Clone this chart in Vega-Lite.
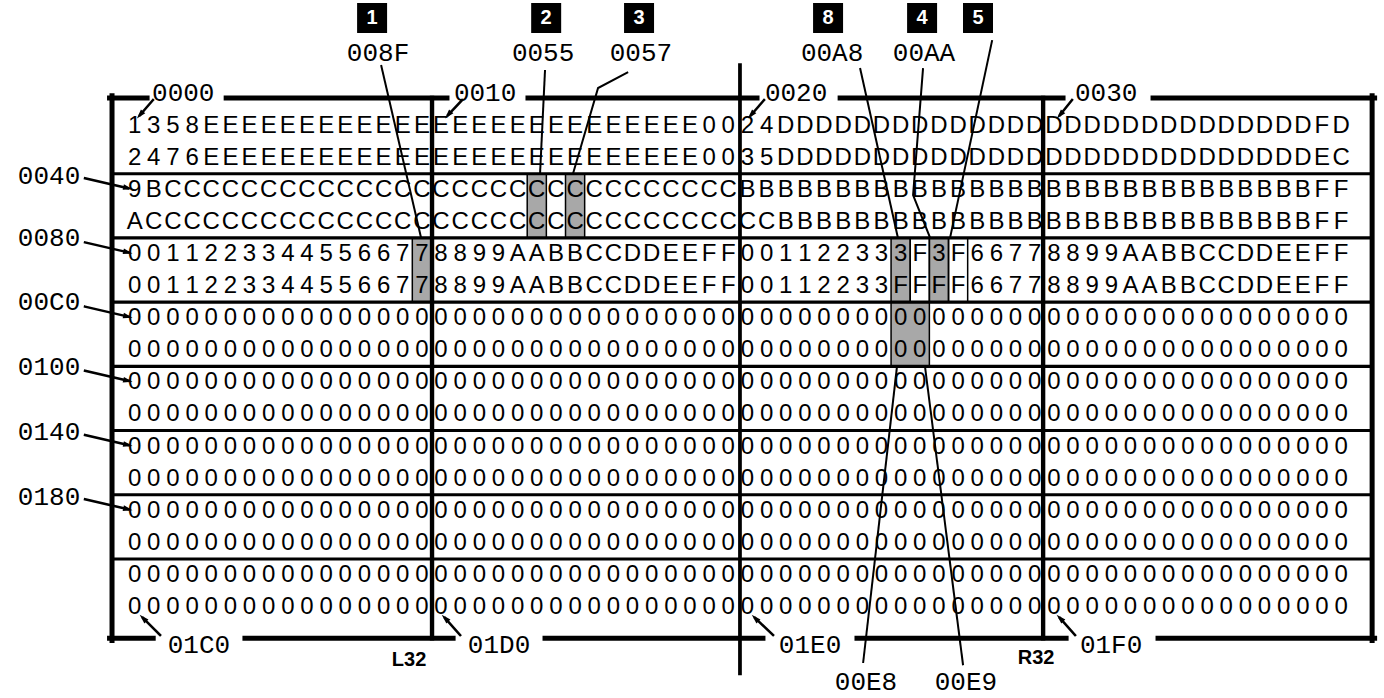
{
"$schema":"https://vega.github.io/schema/vega-lite/v6.json",
"width":1384,"height":698,"padding":0,"autosize":{"type":"none"},
"background":"white",
"config":{"view":{"stroke":null}},
"datasets":{
"shade":[{"x":14.5,"x2":15.5,"y":3.5,"y2":5.5},{"x":20.5,"x2":21.5,"y":1.5,"y2":3.5},{"x":22.5,"x2":23.5,"y":1.5,"y2":3.5},{"x":39.5,"x2":40.5,"y":3.5,"y2":5.5},{"x":41.5,"x2":42.5,"y":3.5,"y2":5.5},{"x":39.5,"x2":41.5,"y":5.5,"y2":7.5}],
"box":[{"x":40.5,"x2":41.5,"y":3.5,"y2":5.5},{"x":42.5,"x2":43.5,"y":3.5,"y2":5.5}],
"segs":[
{"k":"border","x":-1.31,"x2":0.65,"y":-0.857,"y2":-0.857},{"k":"border","x":4.78,"x2":16.31,"y":-0.857,"y2":-0.857},{"k":"border","x":20.54,"x2":32.5,"y":-0.857,"y2":-0.857},{"k":"border","x":36.84,"x2":48.48,"y":-0.857,"y2":-0.857},{"k":"border","x":53.18,"x2":64.75,"y":-0.857,"y2":-0.857},
{"k":"border","x":-1.31,"x2":0.97,"y":15.97,"y2":15.97},{"k":"border","x":5.76,"x2":16.63,"y":15.97,"y2":15.97},{"k":"border","x":21.43,"x2":32.81,"y":15.97,"y2":15.97},{"k":"border","x":37.72,"x2":48.64,"y":15.97,"y2":15.97},{"k":"border","x":53.44,"x2":64.75,"y":15.97,"y2":15.97},
{"k":"border","x":-1.18,"x2":-1.18,"y":-0.93,"y2":16.04},{"k":"border","x":64.62,"x2":64.62,"y":-0.93,"y2":16.04},
{"k":"div","x":15.53,"x2":15.53,"y":-0.857,"y2":15.97},{"k":"div","x":47.44,"x2":47.44,"y":-0.857,"y2":15.97},{"k":"mid","x":31.61,"x2":31.61,"y":-1.885,"y2":17.06},
{"k":"sep","x":-1.18,"x2":64.62,"y":1.5,"y2":1.5},{"k":"sep","x":-1.18,"x2":64.62,"y":3.5,"y2":3.5},{"k":"sep","x":-1.18,"x2":64.62,"y":5.5,"y2":5.5},{"k":"sep","x":-1.18,"x2":64.62,"y":7.5,"y2":7.5},{"k":"sep","x":-1.18,"x2":64.62,"y":9.5,"y2":9.5},{"k":"sep","x":-1.18,"x2":64.62,"y":11.5,"y2":11.5},{"k":"sep","x":-1.18,"x2":64.62,"y":13.5,"y2":13.5},
{"k":"arrow","x":0.96,"x2":0.28,"y":-0.794,"y2":-0.327},{"k":"arrow","x":17.1,"x2":16.37,"y":-0.794,"y2":-0.327},{"k":"arrow","x":32.87,"x2":32.19,"y":-0.794,"y2":-0.327},{"k":"arrow","x":48.95,"x2":48.32,"y":-0.794,"y2":-0.327},
{"k":"arrow","x":-2.59,"x2":-0.35,"y":1.64,"y2":1.95},{"k":"arrow","x":-2.59,"x2":-0.35,"y":3.64,"y2":3.95},{"k":"arrow","x":-2.59,"x2":-0.35,"y":5.64,"y2":5.95},{"k":"arrow","x":-2.59,"x2":-0.35,"y":7.64,"y2":7.95},{"k":"arrow","x":-2.59,"x2":-0.35,"y":9.64,"y2":9.95},{"k":"arrow","x":-2.59,"x2":-0.35,"y":11.64,"y2":11.95},
{"k":"arrow","x":1.33,"x2":0.44,"y":15.87,"y2":15.34},{"k":"arrow","x":17.0,"x2":16.21,"y":15.87,"y2":15.34},{"k":"arrow","x":33.34,"x2":32.4,"y":15.87,"y2":15.34},{"k":"arrow","x":49.11,"x2":48.32,"y":15.87,"y2":15.34}
],
"headsTop":[{"x":0.28,"y":-0.327},{"x":16.37,"y":-0.327},{"x":32.19,"y":-0.327},{"x":48.32,"y":-0.327}],
"headsLeft":[{"x":-0.35,"y":1.95},{"x":-0.35,"y":3.95},{"x":-0.35,"y":5.95},{"x":-0.35,"y":7.95},{"x":-0.35,"y":9.95},{"x":-0.35,"y":11.95}],
"headsBottom":[{"x":0.44,"y":15.34},{"x":16.21,"y":15.34},{"x":32.4,"y":15.34},{"x":48.32,"y":15.34}],
"leaders":[
{"id":"1","o":0,"x":12.87,"y":-1.885},{"id":"1","o":1,"x":14.96,"y":3.5},
{"id":"2","o":0,"x":21.43,"y":-1.73},{"id":"2","o":1,"x":21.17,"y":1.5},
{"id":"3","o":0,"x":25.77,"y":-1.667},{"id":"3","o":1,"x":24.2,"y":-1.168},{"id":"3","o":2,"x":22.89,"y":1.5},
{"id":"8","o":0,"x":37.88,"y":-1.79},{"id":"8","o":1,"x":39.86,"y":3.5},
{"id":"4","o":0,"x":41.17,"y":-1.79},{"id":"4","o":1,"x":40.65,"y":2.165},{"id":"4","o":2,"x":41.54,"y":3.5},
{"id":"5","o":0,"x":44.78,"y":-2.66},{"id":"5","o":1,"x":42.58,"y":3.5},
{"id":"E8","o":0,"x":38.04,"y":16.74},{"id":"E8","o":1,"x":39.81,"y":7.5},
{"id":"E9","o":0,"x":43.26,"y":16.81},{"id":"E9","o":1,"x":41.27,"y":7.5}
],
"labels":[
{"x":2.54,"y":-1.01,"t":"0000"},{"x":18.3,"y":-1.01,"t":"0010"},{"x":34.54,"y":-1.01,"t":"0020"},{"x":50.73,"y":-1.01,"t":"0030"},
{"x":3.36,"y":16.18,"t":"01C0"},{"x":19.03,"y":16.18,"t":"01D0"},{"x":35.27,"y":16.18,"t":"01E0"},{"x":50.99,"y":16.18,"t":"01F0"},
{"x":-4.47,"y":1.57,"t":"0040"},{"x":-4.47,"y":3.5,"t":"0080"},{"x":-4.47,"y":5.5,"t":"00C0"},{"x":-4.47,"y":7.52,"t":"0100"},{"x":-4.47,"y":9.55,"t":"0140"},{"x":-4.47,"y":11.57,"t":"0180"},
{"x":12.71,"y":-2.26,"t":"008F"},{"x":21.33,"y":-2.26,"t":"0055"},{"x":26.44,"y":-2.26,"t":"0057"},{"x":36.42,"y":-2.26,"t":"00A8"},{"x":41.22,"y":-2.26,"t":"00AA"},
{"x":38.19,"y":17.34,"t":"00E8"},{"x":43.41,"y":17.34,"t":"00E9"}
],
"side":[{"x":14.33,"y":16.65,"t":"L32"},{"x":47.07,"y":16.59,"t":"R32"}],
"badges":[{"x":12.4,"y":-3.35,"t":"1"},{"x":21.49,"y":-3.35,"t":"2"},{"x":26.34,"y":-3.35,"t":"3"},{"x":36.21,"y":-3.35,"t":"8"},{"x":41.12,"y":-3.35,"t":"4"},{"x":44.04,"y":-3.35,"t":"5"}],
"cells":[
{"r":0,"i":0,"t":"1"},{"r":0,"i":1,"t":"3"},{"r":0,"i":2,"t":"5"},{"r":0,"i":3,"t":"8"},{"r":0,"i":4,"t":"E"},{"r":0,"i":5,"t":"E"},{"r":0,"i":6,"t":"E"},{"r":0,"i":7,"t":"E"},{"r":0,"i":8,"t":"E"},{"r":0,"i":9,"t":"E"},{"r":0,"i":10,"t":"E"},{"r":0,"i":11,"t":"E"},{"r":0,"i":12,"t":"E"},{"r":0,"i":13,"t":"E"},{"r":0,"i":14,"t":"E"},{"r":0,"i":15,"t":"E"},
{"r":0,"i":16,"t":"E"},{"r":0,"i":17,"t":"E"},{"r":0,"i":18,"t":"E"},{"r":0,"i":19,"t":"E"},{"r":0,"i":20,"t":"E"},{"r":0,"i":21,"t":"E"},{"r":0,"i":22,"t":"E"},{"r":0,"i":23,"t":"E"},{"r":0,"i":24,"t":"E"},{"r":0,"i":25,"t":"E"},{"r":0,"i":26,"t":"E"},{"r":0,"i":27,"t":"E"},{"r":0,"i":28,"t":"E"},{"r":0,"i":29,"t":"E"},{"r":0,"i":30,"t":"0"},{"r":0,"i":31,"t":"0"},
{"r":0,"i":32,"t":"2"},{"r":0,"i":33,"t":"4"},{"r":0,"i":34,"t":"D"},{"r":0,"i":35,"t":"D"},{"r":0,"i":36,"t":"D"},{"r":0,"i":37,"t":"D"},{"r":0,"i":38,"t":"D"},{"r":0,"i":39,"t":"D"},{"r":0,"i":40,"t":"D"},{"r":0,"i":41,"t":"D"},{"r":0,"i":42,"t":"D"},{"r":0,"i":43,"t":"D"},{"r":0,"i":44,"t":"D"},{"r":0,"i":45,"t":"D"},{"r":0,"i":46,"t":"D"},{"r":0,"i":47,"t":"D"},
{"r":0,"i":48,"t":"D"},{"r":0,"i":49,"t":"D"},{"r":0,"i":50,"t":"D"},{"r":0,"i":51,"t":"D"},{"r":0,"i":52,"t":"D"},{"r":0,"i":53,"t":"D"},{"r":0,"i":54,"t":"D"},{"r":0,"i":55,"t":"D"},{"r":0,"i":56,"t":"D"},{"r":0,"i":57,"t":"D"},{"r":0,"i":58,"t":"D"},{"r":0,"i":59,"t":"D"},{"r":0,"i":60,"t":"D"},{"r":0,"i":61,"t":"D"},{"r":0,"i":62,"t":"F"},{"r":0,"i":63,"t":"D"},
{"r":1,"i":0,"t":"2"},{"r":1,"i":1,"t":"4"},{"r":1,"i":2,"t":"7"},{"r":1,"i":3,"t":"6"},{"r":1,"i":4,"t":"E"},{"r":1,"i":5,"t":"E"},{"r":1,"i":6,"t":"E"},{"r":1,"i":7,"t":"E"},{"r":1,"i":8,"t":"E"},{"r":1,"i":9,"t":"E"},{"r":1,"i":10,"t":"E"},{"r":1,"i":11,"t":"E"},{"r":1,"i":12,"t":"E"},{"r":1,"i":13,"t":"E"},{"r":1,"i":14,"t":"E"},{"r":1,"i":15,"t":"E"},
{"r":1,"i":16,"t":"E"},{"r":1,"i":17,"t":"E"},{"r":1,"i":18,"t":"E"},{"r":1,"i":19,"t":"E"},{"r":1,"i":20,"t":"E"},{"r":1,"i":21,"t":"E"},{"r":1,"i":22,"t":"E"},{"r":1,"i":23,"t":"E"},{"r":1,"i":24,"t":"E"},{"r":1,"i":25,"t":"E"},{"r":1,"i":26,"t":"E"},{"r":1,"i":27,"t":"E"},{"r":1,"i":28,"t":"E"},{"r":1,"i":29,"t":"E"},{"r":1,"i":30,"t":"0"},{"r":1,"i":31,"t":"0"},
{"r":1,"i":32,"t":"3"},{"r":1,"i":33,"t":"5"},{"r":1,"i":34,"t":"D"},{"r":1,"i":35,"t":"D"},{"r":1,"i":36,"t":"D"},{"r":1,"i":37,"t":"D"},{"r":1,"i":38,"t":"D"},{"r":1,"i":39,"t":"D"},{"r":1,"i":40,"t":"D"},{"r":1,"i":41,"t":"D"},{"r":1,"i":42,"t":"D"},{"r":1,"i":43,"t":"D"},{"r":1,"i":44,"t":"D"},{"r":1,"i":45,"t":"D"},{"r":1,"i":46,"t":"D"},{"r":1,"i":47,"t":"D"},
{"r":1,"i":48,"t":"D"},{"r":1,"i":49,"t":"D"},{"r":1,"i":50,"t":"D"},{"r":1,"i":51,"t":"D"},{"r":1,"i":52,"t":"D"},{"r":1,"i":53,"t":"D"},{"r":1,"i":54,"t":"D"},{"r":1,"i":55,"t":"D"},{"r":1,"i":56,"t":"D"},{"r":1,"i":57,"t":"D"},{"r":1,"i":58,"t":"D"},{"r":1,"i":59,"t":"D"},{"r":1,"i":60,"t":"D"},{"r":1,"i":61,"t":"D"},{"r":1,"i":62,"t":"E"},{"r":1,"i":63,"t":"C"},
{"r":2,"i":0,"t":"9"},{"r":2,"i":1,"t":"B"},{"r":2,"i":2,"t":"C"},{"r":2,"i":3,"t":"C"},{"r":2,"i":4,"t":"C"},{"r":2,"i":5,"t":"C"},{"r":2,"i":6,"t":"C"},{"r":2,"i":7,"t":"C"},{"r":2,"i":8,"t":"C"},{"r":2,"i":9,"t":"C"},{"r":2,"i":10,"t":"C"},{"r":2,"i":11,"t":"C"},{"r":2,"i":12,"t":"C"},{"r":2,"i":13,"t":"C"},{"r":2,"i":14,"t":"C"},{"r":2,"i":15,"t":"C"},
{"r":2,"i":16,"t":"C"},{"r":2,"i":17,"t":"C"},{"r":2,"i":18,"t":"C"},{"r":2,"i":19,"t":"C"},{"r":2,"i":20,"t":"C"},{"r":2,"i":21,"t":"C"},{"r":2,"i":22,"t":"C"},{"r":2,"i":23,"t":"C"},{"r":2,"i":24,"t":"C"},{"r":2,"i":25,"t":"C"},{"r":2,"i":26,"t":"C"},{"r":2,"i":27,"t":"C"},{"r":2,"i":28,"t":"C"},{"r":2,"i":29,"t":"C"},{"r":2,"i":30,"t":"C"},{"r":2,"i":31,"t":"C"},
{"r":2,"i":32,"t":"B"},{"r":2,"i":33,"t":"B"},{"r":2,"i":34,"t":"B"},{"r":2,"i":35,"t":"B"},{"r":2,"i":36,"t":"B"},{"r":2,"i":37,"t":"B"},{"r":2,"i":38,"t":"B"},{"r":2,"i":39,"t":"B"},{"r":2,"i":40,"t":"B"},{"r":2,"i":41,"t":"B"},{"r":2,"i":42,"t":"B"},{"r":2,"i":43,"t":"B"},{"r":2,"i":44,"t":"B"},{"r":2,"i":45,"t":"B"},{"r":2,"i":46,"t":"B"},{"r":2,"i":47,"t":"B"},
{"r":2,"i":48,"t":"B"},{"r":2,"i":49,"t":"B"},{"r":2,"i":50,"t":"B"},{"r":2,"i":51,"t":"B"},{"r":2,"i":52,"t":"B"},{"r":2,"i":53,"t":"B"},{"r":2,"i":54,"t":"B"},{"r":2,"i":55,"t":"B"},{"r":2,"i":56,"t":"B"},{"r":2,"i":57,"t":"B"},{"r":2,"i":58,"t":"B"},{"r":2,"i":59,"t":"B"},{"r":2,"i":60,"t":"B"},{"r":2,"i":61,"t":"B"},{"r":2,"i":62,"t":"F"},{"r":2,"i":63,"t":"F"},
{"r":3,"i":0,"t":"A"},{"r":3,"i":1,"t":"C"},{"r":3,"i":2,"t":"C"},{"r":3,"i":3,"t":"C"},{"r":3,"i":4,"t":"C"},{"r":3,"i":5,"t":"C"},{"r":3,"i":6,"t":"C"},{"r":3,"i":7,"t":"C"},{"r":3,"i":8,"t":"C"},{"r":3,"i":9,"t":"C"},{"r":3,"i":10,"t":"C"},{"r":3,"i":11,"t":"C"},{"r":3,"i":12,"t":"C"},{"r":3,"i":13,"t":"C"},{"r":3,"i":14,"t":"C"},{"r":3,"i":15,"t":"C"},
{"r":3,"i":16,"t":"C"},{"r":3,"i":17,"t":"C"},{"r":3,"i":18,"t":"C"},{"r":3,"i":19,"t":"C"},{"r":3,"i":20,"t":"C"},{"r":3,"i":21,"t":"C"},{"r":3,"i":22,"t":"C"},{"r":3,"i":23,"t":"C"},{"r":3,"i":24,"t":"C"},{"r":3,"i":25,"t":"C"},{"r":3,"i":26,"t":"C"},{"r":3,"i":27,"t":"C"},{"r":3,"i":28,"t":"C"},{"r":3,"i":29,"t":"C"},{"r":3,"i":30,"t":"C"},{"r":3,"i":31,"t":"C"},
{"r":3,"i":32,"t":"C"},{"r":3,"i":33,"t":"C"},{"r":3,"i":34,"t":"B"},{"r":3,"i":35,"t":"B"},{"r":3,"i":36,"t":"B"},{"r":3,"i":37,"t":"B"},{"r":3,"i":38,"t":"B"},{"r":3,"i":39,"t":"B"},{"r":3,"i":40,"t":"B"},{"r":3,"i":41,"t":"B"},{"r":3,"i":42,"t":"B"},{"r":3,"i":43,"t":"B"},{"r":3,"i":44,"t":"B"},{"r":3,"i":45,"t":"B"},{"r":3,"i":46,"t":"B"},{"r":3,"i":47,"t":"B"},
{"r":3,"i":48,"t":"B"},{"r":3,"i":49,"t":"B"},{"r":3,"i":50,"t":"B"},{"r":3,"i":51,"t":"B"},{"r":3,"i":52,"t":"B"},{"r":3,"i":53,"t":"B"},{"r":3,"i":54,"t":"B"},{"r":3,"i":55,"t":"B"},{"r":3,"i":56,"t":"B"},{"r":3,"i":57,"t":"B"},{"r":3,"i":58,"t":"B"},{"r":3,"i":59,"t":"B"},{"r":3,"i":60,"t":"B"},{"r":3,"i":61,"t":"B"},{"r":3,"i":62,"t":"F"},{"r":3,"i":63,"t":"F"},
{"r":4,"i":0,"t":"0"},{"r":4,"i":1,"t":"0"},{"r":4,"i":2,"t":"1"},{"r":4,"i":3,"t":"1"},{"r":4,"i":4,"t":"2"},{"r":4,"i":5,"t":"2"},{"r":4,"i":6,"t":"3"},{"r":4,"i":7,"t":"3"},{"r":4,"i":8,"t":"4"},{"r":4,"i":9,"t":"4"},{"r":4,"i":10,"t":"5"},{"r":4,"i":11,"t":"5"},{"r":4,"i":12,"t":"6"},{"r":4,"i":13,"t":"6"},{"r":4,"i":14,"t":"7"},{"r":4,"i":15,"t":"7"},
{"r":4,"i":16,"t":"8"},{"r":4,"i":17,"t":"8"},{"r":4,"i":18,"t":"9"},{"r":4,"i":19,"t":"9"},{"r":4,"i":20,"t":"A"},{"r":4,"i":21,"t":"A"},{"r":4,"i":22,"t":"B"},{"r":4,"i":23,"t":"B"},{"r":4,"i":24,"t":"C"},{"r":4,"i":25,"t":"C"},{"r":4,"i":26,"t":"D"},{"r":4,"i":27,"t":"D"},{"r":4,"i":28,"t":"E"},{"r":4,"i":29,"t":"E"},{"r":4,"i":30,"t":"F"},{"r":4,"i":31,"t":"F"},
{"r":4,"i":32,"t":"0"},{"r":4,"i":33,"t":"0"},{"r":4,"i":34,"t":"1"},{"r":4,"i":35,"t":"1"},{"r":4,"i":36,"t":"2"},{"r":4,"i":37,"t":"2"},{"r":4,"i":38,"t":"3"},{"r":4,"i":39,"t":"3"},{"r":4,"i":40,"t":"3"},{"r":4,"i":41,"t":"F"},{"r":4,"i":42,"t":"3"},{"r":4,"i":43,"t":"F"},{"r":4,"i":44,"t":"6"},{"r":4,"i":45,"t":"6"},{"r":4,"i":46,"t":"7"},{"r":4,"i":47,"t":"7"},
{"r":4,"i":48,"t":"8"},{"r":4,"i":49,"t":"8"},{"r":4,"i":50,"t":"9"},{"r":4,"i":51,"t":"9"},{"r":4,"i":52,"t":"A"},{"r":4,"i":53,"t":"A"},{"r":4,"i":54,"t":"B"},{"r":4,"i":55,"t":"B"},{"r":4,"i":56,"t":"C"},{"r":4,"i":57,"t":"C"},{"r":4,"i":58,"t":"D"},{"r":4,"i":59,"t":"D"},{"r":4,"i":60,"t":"E"},{"r":4,"i":61,"t":"E"},{"r":4,"i":62,"t":"F"},{"r":4,"i":63,"t":"F"},
{"r":5,"i":0,"t":"0"},{"r":5,"i":1,"t":"0"},{"r":5,"i":2,"t":"1"},{"r":5,"i":3,"t":"1"},{"r":5,"i":4,"t":"2"},{"r":5,"i":5,"t":"2"},{"r":5,"i":6,"t":"3"},{"r":5,"i":7,"t":"3"},{"r":5,"i":8,"t":"4"},{"r":5,"i":9,"t":"4"},{"r":5,"i":10,"t":"5"},{"r":5,"i":11,"t":"5"},{"r":5,"i":12,"t":"6"},{"r":5,"i":13,"t":"6"},{"r":5,"i":14,"t":"7"},{"r":5,"i":15,"t":"7"},
{"r":5,"i":16,"t":"8"},{"r":5,"i":17,"t":"8"},{"r":5,"i":18,"t":"9"},{"r":5,"i":19,"t":"9"},{"r":5,"i":20,"t":"A"},{"r":5,"i":21,"t":"A"},{"r":5,"i":22,"t":"B"},{"r":5,"i":23,"t":"B"},{"r":5,"i":24,"t":"C"},{"r":5,"i":25,"t":"C"},{"r":5,"i":26,"t":"D"},{"r":5,"i":27,"t":"D"},{"r":5,"i":28,"t":"E"},{"r":5,"i":29,"t":"E"},{"r":5,"i":30,"t":"F"},{"r":5,"i":31,"t":"F"},
{"r":5,"i":32,"t":"0"},{"r":5,"i":33,"t":"0"},{"r":5,"i":34,"t":"1"},{"r":5,"i":35,"t":"1"},{"r":5,"i":36,"t":"2"},{"r":5,"i":37,"t":"2"},{"r":5,"i":38,"t":"3"},{"r":5,"i":39,"t":"3"},{"r":5,"i":40,"t":"F"},{"r":5,"i":41,"t":"F"},{"r":5,"i":42,"t":"F"},{"r":5,"i":43,"t":"F"},{"r":5,"i":44,"t":"6"},{"r":5,"i":45,"t":"6"},{"r":5,"i":46,"t":"7"},{"r":5,"i":47,"t":"7"},
{"r":5,"i":48,"t":"8"},{"r":5,"i":49,"t":"8"},{"r":5,"i":50,"t":"9"},{"r":5,"i":51,"t":"9"},{"r":5,"i":52,"t":"A"},{"r":5,"i":53,"t":"A"},{"r":5,"i":54,"t":"B"},{"r":5,"i":55,"t":"B"},{"r":5,"i":56,"t":"C"},{"r":5,"i":57,"t":"C"},{"r":5,"i":58,"t":"D"},{"r":5,"i":59,"t":"D"},{"r":5,"i":60,"t":"E"},{"r":5,"i":61,"t":"E"},{"r":5,"i":62,"t":"F"},{"r":5,"i":63,"t":"F"}
],
"zrows":[
{"r":6,"i":0},{"r":6,"i":1},{"r":6,"i":2},{"r":6,"i":3},{"r":6,"i":4},{"r":6,"i":5},{"r":6,"i":6},{"r":6,"i":7},{"r":6,"i":8},{"r":6,"i":9},{"r":6,"i":10},{"r":6,"i":11},{"r":6,"i":12},{"r":6,"i":13},{"r":6,"i":14},{"r":6,"i":15},{"r":6,"i":16},{"r":6,"i":17},{"r":6,"i":18},{"r":6,"i":19},{"r":6,"i":20},{"r":6,"i":21},{"r":6,"i":22},{"r":6,"i":23},{"r":6,"i":24},{"r":6,"i":25},{"r":6,"i":26},{"r":6,"i":27},{"r":6,"i":28},{"r":6,"i":29},{"r":6,"i":30},{"r":6,"i":31},{"r":6,"i":32},{"r":6,"i":33},{"r":6,"i":34},{"r":6,"i":35},{"r":6,"i":36},{"r":6,"i":37},{"r":6,"i":38},{"r":6,"i":39},{"r":6,"i":40},{"r":6,"i":41},{"r":6,"i":42},{"r":6,"i":43},{"r":6,"i":44},{"r":6,"i":45},{"r":6,"i":46},{"r":6,"i":47},{"r":6,"i":48},{"r":6,"i":49},{"r":6,"i":50},{"r":6,"i":51},{"r":6,"i":52},{"r":6,"i":53},{"r":6,"i":54},{"r":6,"i":55},{"r":6,"i":56},{"r":6,"i":57},{"r":6,"i":58},{"r":6,"i":59},{"r":6,"i":60},{"r":6,"i":61},{"r":6,"i":62},{"r":6,"i":63},
{"r":7,"i":0},{"r":7,"i":1},{"r":7,"i":2},{"r":7,"i":3},{"r":7,"i":4},{"r":7,"i":5},{"r":7,"i":6},{"r":7,"i":7},{"r":7,"i":8},{"r":7,"i":9},{"r":7,"i":10},{"r":7,"i":11},{"r":7,"i":12},{"r":7,"i":13},{"r":7,"i":14},{"r":7,"i":15},{"r":7,"i":16},{"r":7,"i":17},{"r":7,"i":18},{"r":7,"i":19},{"r":7,"i":20},{"r":7,"i":21},{"r":7,"i":22},{"r":7,"i":23},{"r":7,"i":24},{"r":7,"i":25},{"r":7,"i":26},{"r":7,"i":27},{"r":7,"i":28},{"r":7,"i":29},{"r":7,"i":30},{"r":7,"i":31},{"r":7,"i":32},{"r":7,"i":33},{"r":7,"i":34},{"r":7,"i":35},{"r":7,"i":36},{"r":7,"i":37},{"r":7,"i":38},{"r":7,"i":39},{"r":7,"i":40},{"r":7,"i":41},{"r":7,"i":42},{"r":7,"i":43},{"r":7,"i":44},{"r":7,"i":45},{"r":7,"i":46},{"r":7,"i":47},{"r":7,"i":48},{"r":7,"i":49},{"r":7,"i":50},{"r":7,"i":51},{"r":7,"i":52},{"r":7,"i":53},{"r":7,"i":54},{"r":7,"i":55},{"r":7,"i":56},{"r":7,"i":57},{"r":7,"i":58},{"r":7,"i":59},{"r":7,"i":60},{"r":7,"i":61},{"r":7,"i":62},{"r":7,"i":63},
{"r":8,"i":0},{"r":8,"i":1},{"r":8,"i":2},{"r":8,"i":3},{"r":8,"i":4},{"r":8,"i":5},{"r":8,"i":6},{"r":8,"i":7},{"r":8,"i":8},{"r":8,"i":9},{"r":8,"i":10},{"r":8,"i":11},{"r":8,"i":12},{"r":8,"i":13},{"r":8,"i":14},{"r":8,"i":15},{"r":8,"i":16},{"r":8,"i":17},{"r":8,"i":18},{"r":8,"i":19},{"r":8,"i":20},{"r":8,"i":21},{"r":8,"i":22},{"r":8,"i":23},{"r":8,"i":24},{"r":8,"i":25},{"r":8,"i":26},{"r":8,"i":27},{"r":8,"i":28},{"r":8,"i":29},{"r":8,"i":30},{"r":8,"i":31},{"r":8,"i":32},{"r":8,"i":33},{"r":8,"i":34},{"r":8,"i":35},{"r":8,"i":36},{"r":8,"i":37},{"r":8,"i":38},{"r":8,"i":39},{"r":8,"i":40},{"r":8,"i":41},{"r":8,"i":42},{"r":8,"i":43},{"r":8,"i":44},{"r":8,"i":45},{"r":8,"i":46},{"r":8,"i":47},{"r":8,"i":48},{"r":8,"i":49},{"r":8,"i":50},{"r":8,"i":51},{"r":8,"i":52},{"r":8,"i":53},{"r":8,"i":54},{"r":8,"i":55},{"r":8,"i":56},{"r":8,"i":57},{"r":8,"i":58},{"r":8,"i":59},{"r":8,"i":60},{"r":8,"i":61},{"r":8,"i":62},{"r":8,"i":63},
{"r":9,"i":0},{"r":9,"i":1},{"r":9,"i":2},{"r":9,"i":3},{"r":9,"i":4},{"r":9,"i":5},{"r":9,"i":6},{"r":9,"i":7},{"r":9,"i":8},{"r":9,"i":9},{"r":9,"i":10},{"r":9,"i":11},{"r":9,"i":12},{"r":9,"i":13},{"r":9,"i":14},{"r":9,"i":15},{"r":9,"i":16},{"r":9,"i":17},{"r":9,"i":18},{"r":9,"i":19},{"r":9,"i":20},{"r":9,"i":21},{"r":9,"i":22},{"r":9,"i":23},{"r":9,"i":24},{"r":9,"i":25},{"r":9,"i":26},{"r":9,"i":27},{"r":9,"i":28},{"r":9,"i":29},{"r":9,"i":30},{"r":9,"i":31},{"r":9,"i":32},{"r":9,"i":33},{"r":9,"i":34},{"r":9,"i":35},{"r":9,"i":36},{"r":9,"i":37},{"r":9,"i":38},{"r":9,"i":39},{"r":9,"i":40},{"r":9,"i":41},{"r":9,"i":42},{"r":9,"i":43},{"r":9,"i":44},{"r":9,"i":45},{"r":9,"i":46},{"r":9,"i":47},{"r":9,"i":48},{"r":9,"i":49},{"r":9,"i":50},{"r":9,"i":51},{"r":9,"i":52},{"r":9,"i":53},{"r":9,"i":54},{"r":9,"i":55},{"r":9,"i":56},{"r":9,"i":57},{"r":9,"i":58},{"r":9,"i":59},{"r":9,"i":60},{"r":9,"i":61},{"r":9,"i":62},{"r":9,"i":63},
{"r":10,"i":0},{"r":10,"i":1},{"r":10,"i":2},{"r":10,"i":3},{"r":10,"i":4},{"r":10,"i":5},{"r":10,"i":6},{"r":10,"i":7},{"r":10,"i":8},{"r":10,"i":9},{"r":10,"i":10},{"r":10,"i":11},{"r":10,"i":12},{"r":10,"i":13},{"r":10,"i":14},{"r":10,"i":15},{"r":10,"i":16},{"r":10,"i":17},{"r":10,"i":18},{"r":10,"i":19},{"r":10,"i":20},{"r":10,"i":21},{"r":10,"i":22},{"r":10,"i":23},{"r":10,"i":24},{"r":10,"i":25},{"r":10,"i":26},{"r":10,"i":27},{"r":10,"i":28},{"r":10,"i":29},{"r":10,"i":30},{"r":10,"i":31},{"r":10,"i":32},{"r":10,"i":33},{"r":10,"i":34},{"r":10,"i":35},{"r":10,"i":36},{"r":10,"i":37},{"r":10,"i":38},{"r":10,"i":39},{"r":10,"i":40},{"r":10,"i":41},{"r":10,"i":42},{"r":10,"i":43},{"r":10,"i":44},{"r":10,"i":45},{"r":10,"i":46},{"r":10,"i":47},{"r":10,"i":48},{"r":10,"i":49},{"r":10,"i":50},{"r":10,"i":51},{"r":10,"i":52},{"r":10,"i":53},{"r":10,"i":54},{"r":10,"i":55},{"r":10,"i":56},{"r":10,"i":57},{"r":10,"i":58},{"r":10,"i":59},{"r":10,"i":60},{"r":10,"i":61},{"r":10,"i":62},{"r":10,"i":63},
{"r":11,"i":0},{"r":11,"i":1},{"r":11,"i":2},{"r":11,"i":3},{"r":11,"i":4},{"r":11,"i":5},{"r":11,"i":6},{"r":11,"i":7},{"r":11,"i":8},{"r":11,"i":9},{"r":11,"i":10},{"r":11,"i":11},{"r":11,"i":12},{"r":11,"i":13},{"r":11,"i":14},{"r":11,"i":15},{"r":11,"i":16},{"r":11,"i":17},{"r":11,"i":18},{"r":11,"i":19},{"r":11,"i":20},{"r":11,"i":21},{"r":11,"i":22},{"r":11,"i":23},{"r":11,"i":24},{"r":11,"i":25},{"r":11,"i":26},{"r":11,"i":27},{"r":11,"i":28},{"r":11,"i":29},{"r":11,"i":30},{"r":11,"i":31},{"r":11,"i":32},{"r":11,"i":33},{"r":11,"i":34},{"r":11,"i":35},{"r":11,"i":36},{"r":11,"i":37},{"r":11,"i":38},{"r":11,"i":39},{"r":11,"i":40},{"r":11,"i":41},{"r":11,"i":42},{"r":11,"i":43},{"r":11,"i":44},{"r":11,"i":45},{"r":11,"i":46},{"r":11,"i":47},{"r":11,"i":48},{"r":11,"i":49},{"r":11,"i":50},{"r":11,"i":51},{"r":11,"i":52},{"r":11,"i":53},{"r":11,"i":54},{"r":11,"i":55},{"r":11,"i":56},{"r":11,"i":57},{"r":11,"i":58},{"r":11,"i":59},{"r":11,"i":60},{"r":11,"i":61},{"r":11,"i":62},{"r":11,"i":63},
{"r":12,"i":0},{"r":12,"i":1},{"r":12,"i":2},{"r":12,"i":3},{"r":12,"i":4},{"r":12,"i":5},{"r":12,"i":6},{"r":12,"i":7},{"r":12,"i":8},{"r":12,"i":9},{"r":12,"i":10},{"r":12,"i":11},{"r":12,"i":12},{"r":12,"i":13},{"r":12,"i":14},{"r":12,"i":15},{"r":12,"i":16},{"r":12,"i":17},{"r":12,"i":18},{"r":12,"i":19},{"r":12,"i":20},{"r":12,"i":21},{"r":12,"i":22},{"r":12,"i":23},{"r":12,"i":24},{"r":12,"i":25},{"r":12,"i":26},{"r":12,"i":27},{"r":12,"i":28},{"r":12,"i":29},{"r":12,"i":30},{"r":12,"i":31},{"r":12,"i":32},{"r":12,"i":33},{"r":12,"i":34},{"r":12,"i":35},{"r":12,"i":36},{"r":12,"i":37},{"r":12,"i":38},{"r":12,"i":39},{"r":12,"i":40},{"r":12,"i":41},{"r":12,"i":42},{"r":12,"i":43},{"r":12,"i":44},{"r":12,"i":45},{"r":12,"i":46},{"r":12,"i":47},{"r":12,"i":48},{"r":12,"i":49},{"r":12,"i":50},{"r":12,"i":51},{"r":12,"i":52},{"r":12,"i":53},{"r":12,"i":54},{"r":12,"i":55},{"r":12,"i":56},{"r":12,"i":57},{"r":12,"i":58},{"r":12,"i":59},{"r":12,"i":60},{"r":12,"i":61},{"r":12,"i":62},{"r":12,"i":63},
{"r":13,"i":0},{"r":13,"i":1},{"r":13,"i":2},{"r":13,"i":3},{"r":13,"i":4},{"r":13,"i":5},{"r":13,"i":6},{"r":13,"i":7},{"r":13,"i":8},{"r":13,"i":9},{"r":13,"i":10},{"r":13,"i":11},{"r":13,"i":12},{"r":13,"i":13},{"r":13,"i":14},{"r":13,"i":15},{"r":13,"i":16},{"r":13,"i":17},{"r":13,"i":18},{"r":13,"i":19},{"r":13,"i":20},{"r":13,"i":21},{"r":13,"i":22},{"r":13,"i":23},{"r":13,"i":24},{"r":13,"i":25},{"r":13,"i":26},{"r":13,"i":27},{"r":13,"i":28},{"r":13,"i":29},{"r":13,"i":30},{"r":13,"i":31},{"r":13,"i":32},{"r":13,"i":33},{"r":13,"i":34},{"r":13,"i":35},{"r":13,"i":36},{"r":13,"i":37},{"r":13,"i":38},{"r":13,"i":39},{"r":13,"i":40},{"r":13,"i":41},{"r":13,"i":42},{"r":13,"i":43},{"r":13,"i":44},{"r":13,"i":45},{"r":13,"i":46},{"r":13,"i":47},{"r":13,"i":48},{"r":13,"i":49},{"r":13,"i":50},{"r":13,"i":51},{"r":13,"i":52},{"r":13,"i":53},{"r":13,"i":54},{"r":13,"i":55},{"r":13,"i":56},{"r":13,"i":57},{"r":13,"i":58},{"r":13,"i":59},{"r":13,"i":60},{"r":13,"i":61},{"r":13,"i":62},{"r":13,"i":63},
{"r":14,"i":0},{"r":14,"i":1},{"r":14,"i":2},{"r":14,"i":3},{"r":14,"i":4},{"r":14,"i":5},{"r":14,"i":6},{"r":14,"i":7},{"r":14,"i":8},{"r":14,"i":9},{"r":14,"i":10},{"r":14,"i":11},{"r":14,"i":12},{"r":14,"i":13},{"r":14,"i":14},{"r":14,"i":15},{"r":14,"i":16},{"r":14,"i":17},{"r":14,"i":18},{"r":14,"i":19},{"r":14,"i":20},{"r":14,"i":21},{"r":14,"i":22},{"r":14,"i":23},{"r":14,"i":24},{"r":14,"i":25},{"r":14,"i":26},{"r":14,"i":27},{"r":14,"i":28},{"r":14,"i":29},{"r":14,"i":30},{"r":14,"i":31},{"r":14,"i":32},{"r":14,"i":33},{"r":14,"i":34},{"r":14,"i":35},{"r":14,"i":36},{"r":14,"i":37},{"r":14,"i":38},{"r":14,"i":39},{"r":14,"i":40},{"r":14,"i":41},{"r":14,"i":42},{"r":14,"i":43},{"r":14,"i":44},{"r":14,"i":45},{"r":14,"i":46},{"r":14,"i":47},{"r":14,"i":48},{"r":14,"i":49},{"r":14,"i":50},{"r":14,"i":51},{"r":14,"i":52},{"r":14,"i":53},{"r":14,"i":54},{"r":14,"i":55},{"r":14,"i":56},{"r":14,"i":57},{"r":14,"i":58},{"r":14,"i":59},{"r":14,"i":60},{"r":14,"i":61},{"r":14,"i":62},{"r":14,"i":63},
{"r":15,"i":0},{"r":15,"i":1},{"r":15,"i":2},{"r":15,"i":3},{"r":15,"i":4},{"r":15,"i":5},{"r":15,"i":6},{"r":15,"i":7},{"r":15,"i":8},{"r":15,"i":9},{"r":15,"i":10},{"r":15,"i":11},{"r":15,"i":12},{"r":15,"i":13},{"r":15,"i":14},{"r":15,"i":15},{"r":15,"i":16},{"r":15,"i":17},{"r":15,"i":18},{"r":15,"i":19},{"r":15,"i":20},{"r":15,"i":21},{"r":15,"i":22},{"r":15,"i":23},{"r":15,"i":24},{"r":15,"i":25},{"r":15,"i":26},{"r":15,"i":27},{"r":15,"i":28},{"r":15,"i":29},{"r":15,"i":30},{"r":15,"i":31},{"r":15,"i":32},{"r":15,"i":33},{"r":15,"i":34},{"r":15,"i":35},{"r":15,"i":36},{"r":15,"i":37},{"r":15,"i":38},{"r":15,"i":39},{"r":15,"i":40},{"r":15,"i":41},{"r":15,"i":42},{"r":15,"i":43},{"r":15,"i":44},{"r":15,"i":45},{"r":15,"i":46},{"r":15,"i":47},{"r":15,"i":48},{"r":15,"i":49},{"r":15,"i":50},{"r":15,"i":51},{"r":15,"i":52},{"r":15,"i":53},{"r":15,"i":54},{"r":15,"i":55},{"r":15,"i":56},{"r":15,"i":57},{"r":15,"i":58},{"r":15,"i":59},{"r":15,"i":60},{"r":15,"i":61},{"r":15,"i":62},{"r":15,"i":63}
]
},
"layer":[
{"data":{"name":"shade"},"mark":{"type":"rect","fill":"#a8a8a8","stroke":"black","strokeWidth":1.5},
 "encoding":{"x":{"field":"x","type":"quantitative","axis":null,"scale":{"domain":[-7.03,65.24],"nice":false,"zero":false}},"x2":{"field":"x2"},
 "y":{"field":"y","type":"quantitative","axis":null,"scale":{"domain":[-3.91,17.83],"nice":false,"zero":false,"reverse":true}},"y2":{"field":"y2"}}},
{"data":{"name":"box"},"mark":{"type":"rect","fill":"white","fillOpacity":0,"stroke":"black","strokeWidth":1.5},
 "encoding":{"x":{"field":"x","type":"quantitative","axis":null,"scale":{"domain":[-7.03,65.24],"nice":false,"zero":false}},"x2":{"field":"x2"},
 "y":{"field":"y","type":"quantitative","axis":null,"scale":{"domain":[-3.91,17.83],"nice":false,"zero":false,"reverse":true}},"y2":{"field":"y2"}}},
{"data":{"name":"segs"},"mark":{"type":"rule","color":"black","strokeCap":"square"},
 "encoding":{"x":{"field":"x","type":"quantitative","axis":null,"scale":{"domain":[-7.03,65.24],"nice":false,"zero":false}},"x2":{"field":"x2"},
 "y":{"field":"y","type":"quantitative","axis":null,"scale":{"domain":[-3.91,17.83],"nice":false,"zero":false,"reverse":true}},"y2":{"field":"y2"},
 "strokeWidth":{"field":"k","type":"nominal","scale":{"domain":["border","div","mid","sep","arrow"],"range":[5,2.5,2,1.5,2]},"legend":null}}},
{"data":{"name":"leaders"},"mark":{"type":"line","color":"black","strokeWidth":2},
 "encoding":{"x":{"field":"x","type":"quantitative","axis":null,"scale":{"domain":[-7.03,65.24],"nice":false,"zero":false}},
 "y":{"field":"y","type":"quantitative","axis":null,"scale":{"domain":[-3.91,17.83],"nice":false,"zero":false,"reverse":true}},
 "detail":{"field":"id","type":"nominal"},"order":{"field":"o","type":"quantitative"}}},
{"data":{"name":"headsTop"},"mark":{"type":"point","filled":true,"color":"black","opacity":1,"shape":"M0,-1L0.6,1L-0.6,1Z","size":90,"angle":221},
 "encoding":{"x":{"field":"x","type":"quantitative","axis":null,"scale":{"domain":[-7.03,65.24],"nice":false,"zero":false}},
 "y":{"field":"y","type":"quantitative","axis":null,"scale":{"domain":[-3.91,17.83],"nice":false,"zero":false,"reverse":true}}}},
{"data":{"name":"headsLeft"},"mark":{"type":"point","filled":true,"color":"black","opacity":1,"shape":"M0,-1L0.6,1L-0.6,1Z","size":90,"angle":103},
 "encoding":{"x":{"field":"x","type":"quantitative","axis":null,"scale":{"domain":[-7.03,65.24],"nice":false,"zero":false}},
 "y":{"field":"y","type":"quantitative","axis":null,"scale":{"domain":[-3.91,17.83],"nice":false,"zero":false,"reverse":true}}}},
{"data":{"name":"headsBottom"},"mark":{"type":"point","filled":true,"color":"black","opacity":1,"shape":"M0,-1L0.6,1L-0.6,1Z","size":90,"angle":315},
 "encoding":{"x":{"field":"x","type":"quantitative","axis":null,"scale":{"domain":[-7.03,65.24],"nice":false,"zero":false}},
 "y":{"field":"y","type":"quantitative","axis":null,"scale":{"domain":[-3.91,17.83],"nice":false,"zero":false,"reverse":true}}}},
{"data":{"name":"cells"},"mark":{"type":"text","font":"Liberation Sans","fontSize":24,"color":"black","align":"center","baseline":"middle"},
 "encoding":{"x":{"field":"i","type":"quantitative","axis":null,"scale":{"domain":[-7.03,65.24],"nice":false,"zero":false}},
 "y":{"field":"r","type":"quantitative","axis":null,"scale":{"domain":[-3.91,17.83],"nice":false,"zero":false,"reverse":true}},
 "text":{"field":"t"}}},
{"data":{"name":"zrows"},"mark":{"type":"text","font":"Liberation Sans","fontSize":24,"color":"black","align":"center","baseline":"middle","text":"0"},
 "encoding":{"x":{"field":"i","type":"quantitative","axis":null,"scale":{"domain":[-7.03,65.24],"nice":false,"zero":false}},
 "y":{"field":"r","type":"quantitative","axis":null,"scale":{"domain":[-3.91,17.83],"nice":false,"zero":false,"reverse":true}}}},
{"data":{"name":"labels"},"mark":{"type":"text","font":"Liberation Mono","fontSize":26,"color":"black","align":"center","baseline":"middle"},
 "encoding":{"x":{"field":"x","type":"quantitative","axis":null,"scale":{"domain":[-7.03,65.24],"nice":false,"zero":false}},
 "y":{"field":"y","type":"quantitative","axis":null,"scale":{"domain":[-3.91,17.83],"nice":false,"zero":false,"reverse":true}},
 "text":{"field":"t"}}},
{"data":{"name":"side"},"mark":{"type":"text","font":"Liberation Sans","fontSize":20,"fontWeight":"bold","color":"black","align":"center","baseline":"middle"},
 "encoding":{"x":{"field":"x","type":"quantitative","axis":null,"scale":{"domain":[-7.03,65.24],"nice":false,"zero":false}},
 "y":{"field":"y","type":"quantitative","axis":null,"scale":{"domain":[-3.91,17.83],"nice":false,"zero":false,"reverse":true}},
 "text":{"field":"t"}}},
{"data":{"name":"badges"},"mark":{"type":"point","shape":"square","filled":true,"color":"black","opacity":1,"size":900},
 "encoding":{"x":{"field":"x","type":"quantitative","axis":null,"scale":{"domain":[-7.03,65.24],"nice":false,"zero":false}},
 "y":{"field":"y","type":"quantitative","axis":null,"scale":{"domain":[-3.91,17.83],"nice":false,"zero":false,"reverse":true}}}},
{"data":{"name":"badges"},"mark":{"type":"text","font":"Liberation Sans","fontSize":20,"fontWeight":"bold","color":"white","align":"center","baseline":"middle"},
 "encoding":{"x":{"field":"x","type":"quantitative","axis":null,"scale":{"domain":[-7.03,65.24],"nice":false,"zero":false}},
 "y":{"field":"y","type":"quantitative","axis":null,"scale":{"domain":[-3.91,17.83],"nice":false,"zero":false,"reverse":true}},
 "text":{"field":"t"}}}
]
}
